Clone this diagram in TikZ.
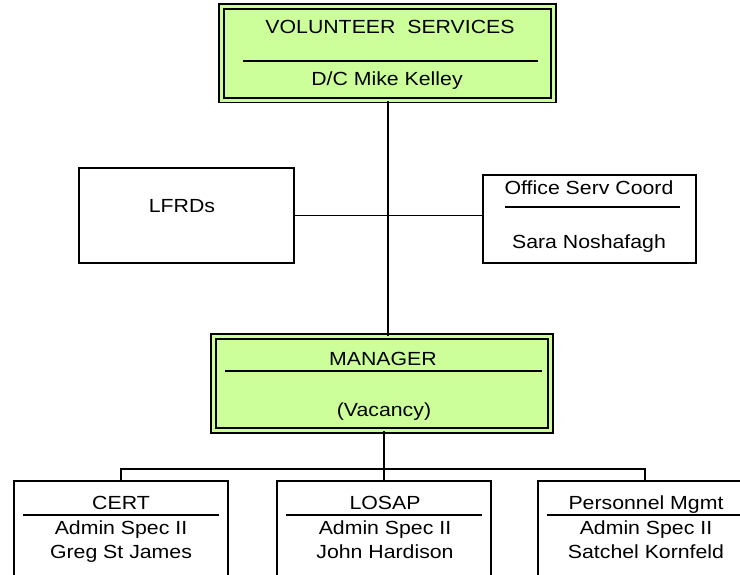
\documentclass[tikz,border=0pt]{standalone}
\usepackage{fontspec}
\setmainfont[FakeStretch=1.12]{Liberation Sans}
\definecolor{boxgreen}{HTML}{CCFF99}
\tikzset{
  greenbox/.style={draw=black, line width=1.7pt, double=boxgreen, double distance=3pt, fill=boxgreen, inner sep=0pt},
  plainbox/.style={draw=black, line width=1.7pt, fill=white, inner sep=0pt},
  lbl/.style={anchor=base, inner sep=0pt, font=\fontsize{19}{23}\selectfont},
  conn/.style={line width=1.9pt},
  sepline/.style={line width=1.9pt}
}
\begin{document}
\begin{tikzpicture}[x=1pt,y=-1pt]
\clip (0,0) rectangle (740,574);
\fill[white] (0,0) rectangle (740,574);

% boxes
\node[greenbox, minimum width=332pt, minimum height=93.5pt] (vs) at (387.6,53.25) {};
\node[greenbox, minimum width=337pt, minimum height=94pt] (mgr) at (382,383.5) {};
\node[plainbox, minimum width=215pt, minimum height=95pt] (lfrd) at (186.5,215.5) {};
\node[plainbox, minimum width=213pt, minimum height=88pt] (off) at (589.5,219) {};
\node[plainbox, minimum width=214pt, minimum height=130pt] (cert) at (121,546) {};
\node[plainbox, minimum width=214pt, minimum height=130pt] (losap) at (384,546) {};
\node[plainbox, minimum width=214pt, minimum height=130pt] (pm) at (645,546) {};

% connectors
\coordinate (busC) at (384,469);
\draw[conn] (vs.south) -- (vs.south |- mgr.north);
\draw[conn] (lfrd.east) -- (lfrd.east -| off.west);
\draw[conn] (busC |- mgr.south) -- (busC);
\draw[conn] (cert.north) -- (cert.north |- busC) -- (pm.north |- busC) -- (pm.north);
\draw[conn] (busC) -- (losap.north);

% top box texts
\node[lbl] (vsT) at (390,33) {VOLUNTEER\ \ SERVICES};
\coordinate (vsA) at (243,61); \coordinate (vsB) at (538,61);
\draw[sepline] (vsA) -- (vsB);
\node[lbl] (vsN) at (387,85) {D/C Mike Kelley};

% manager texts
\node[lbl] (mgrT) at (383,365) {MANAGER};
\coordinate (mgrA) at (225,371); \coordinate (mgrB) at (542,371);
\draw[sepline] (mgrA) -- (mgrB);
\node[lbl] (mgrN) at (384,416) {(Vacancy)};

% side boxes
\node[lbl] (lfrdT) at (182,212) {LFRDs};
\node[lbl] (offT) at (589,194) {Office Serv Coord};
\coordinate (offA) at (505,207); \coordinate (offB) at (680,207);
\draw[sepline] (offA) -- (offB);
\node[lbl] (offN) at (589,248) {Sara Noshafagh};

% bottom boxes
\node[lbl] (certT) at (121,509) {CERT};
\coordinate (certA) at (23,515); \coordinate (certB) at (219,515);
\draw[sepline] (certA) -- (certB);
\node[lbl] (certP) at (121,534) {Admin Spec II};
\node[lbl] (certN) at (121,558) {Greg St James};

\node[lbl] (losT) at (385,509) {LOSAP};
\coordinate (losA) at (286,515); \coordinate (losB) at (482,515);
\draw[sepline] (losA) -- (losB);
\node[lbl] (losP) at (385,534) {Admin Spec II};
\node[lbl] (losN) at (385,558) {John Hardison};

\node[lbl] (pmT) at (646,509) {Personnel Mgmt};
\coordinate (pmA) at (547,515); \coordinate (pmB) at (743,515);
\draw[sepline] (pmA) -- (pmB);
\node[lbl] (pmP) at (646,534) {Admin Spec II};
\node[lbl] (pmN) at (646,558) {Satchel Kornfeld};
\end{tikzpicture}
\end{document}
